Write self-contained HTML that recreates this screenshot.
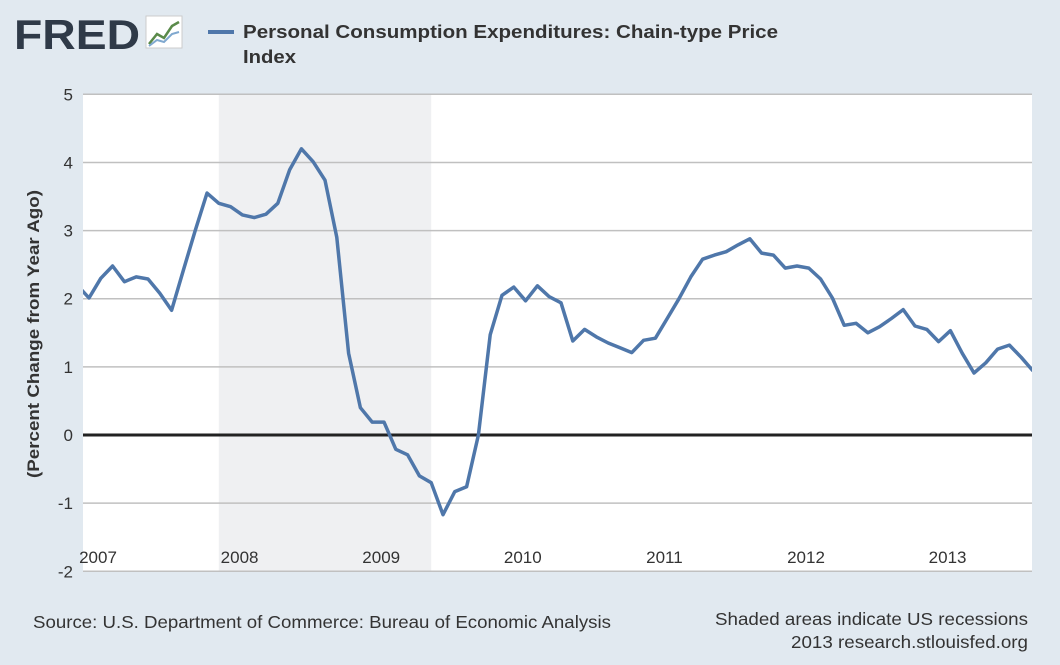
<!DOCTYPE html>
<html><head><meta charset="utf-8"><style>
body{margin:0;background:#e1e9f0;}
svg{display:block;font-family:"Liberation Sans",sans-serif;}
</style></head><body>
<svg width="1060" height="665">
<rect x="0" y="0" width="1060" height="665" fill="#e1e9f0"/>
<g>
<text x="14" y="49" font-size="42" font-weight="bold" fill="#2f3a48" textLength="126" lengthAdjust="spacingAndGlyphs">FRED</text>
<rect x="146" y="16" width="36" height="32" fill="#fff" stroke="#ccc"/>
<polyline points="149,44 157,34 164,38 172,26 179,22" fill="none" stroke="#5a8a4a" stroke-width="2.5"/>
<polyline points="149,46 157,40 164,42 172,34 179,32" fill="none" stroke="#7fa8cf" stroke-width="2"/>
</g>
<g>
<line x1="208" y1="32" x2="234" y2="32" stroke="#4f77aa" stroke-width="4"/>
<text x="243" y="38" font-size="18" font-weight="bold" fill="#333" textLength="535" lengthAdjust="spacingAndGlyphs">Personal Consumption Expenditures: Chain-type Price</text>
<text x="243" y="63" font-size="18" font-weight="bold" fill="#333" textLength="53" lengthAdjust="spacingAndGlyphs">Index</text>
</g>
<rect x="83" y="95" width="949" height="477" fill="#fff"/>
<g id="rec"></g><g id="grid"></g><g id="series"></g><g id="xlab"></g>
<text transform="translate(39,334) rotate(-90)" text-anchor="middle" font-size="17" font-weight="bold" fill="#333" textLength="288" lengthAdjust="spacingAndGlyphs">(Percent Change from Year Ago)</text>
<text x="33" y="628" font-size="17.5" fill="#333" textLength="578" lengthAdjust="spacingAndGlyphs">Source: U.S. Department of Commerce: Bureau of Economic Analysis</text>
<text x="715" y="625" font-size="17.5" fill="#333" textLength="313" lengthAdjust="spacingAndGlyphs">Shaded areas indicate US recessions</text>
<text x="791" y="648" font-size="17.5" fill="#333" textLength="237" lengthAdjust="spacingAndGlyphs">2013 research.stlouisfed.org</text>
</svg>
<script>
const values=[2.2,2.01,2.3,2.48,2.25,2.32,2.29,2.08,1.83,2.42,3.0,3.55,3.40,3.35,3.23,3.19,3.24,3.40,3.89,4.2,4.01,3.74,2.9,1.2,0.4,0.19,0.19,-0.21,-0.29,-0.6,-0.7,-1.17,-0.83,-0.76,0.0,1.47,2.05,2.17,1.97,2.19,2.03,1.94,1.38,1.55,1.44,1.35,1.28,1.21,1.39,1.42,1.71,2.0,2.32,2.58,2.64,2.69,2.79,2.88,2.67,2.64,2.45,2.48,2.45,2.29,2.01,1.61,1.64,1.5,1.59,1.71,1.84,1.6,1.55,1.37,1.53,1.2,0.91,1.06,1.26,1.32,1.14,0.94];
const startMonth=-1; // Dec 2006 relative to Jan 2007
const yTicks=[5,4,3,2,1,0,-1,-2];
const xYears=[2007,2008,2009,2010,2011,2012,2013];
const recessions=[[11,29]]; // months from Jan 2007: Dec 2007 - Jun 2009
const NS="http://www.w3.org/2000/svg";
const X0=83,X1=1032,Y0=95,Y1=572;
function xs(m){return 89+m*11.8;}
function ys(v){return 435-v*68.14;}
function el(t,a,p){const e=document.createElementNS(NS,t);for(const k in a)e.setAttribute(k,a[k]);document.getElementById(p).appendChild(e);return e;}
recessions.forEach(r=>{const a=Math.max(X0,xs(r[0])),b=xs(r[1]);
 const e=el('rect',{x:a,y:Y0,width:b-a,height:Y1-Y0,fill:'#eff0f2'},'rec');
 
 });
yTicks.forEach(v=>{const y=ys(v);
 const l=el('line',{x1:X0,x2:X1,y1:y,y2:y,stroke:v===0?'#222':'#c0c0c0','stroke-width':v===0?3:1.5},'grid');
 
 
 const t=el('text',{x:73,y:y+6,'text-anchor':'end','font-size':17,fill:'#333'},'grid');t.textContent=v;
 
 });
xYears.forEach((yr,i)=>{const x=xs(i*12)+9;
 const t=el('text',{x:x,y:563,'text-anchor':'middle','font-size':17,fill:'#333'},'xlab');t.textContent=yr;
 
 });
el('clipPath',{id:'clp'},'series');
el('rect',{x:X0,y:Y0,width:X1-X0,height:Y1-Y0},'clp');
const pts=values.map((v,i)=>xs(startMonth+i).toFixed(1)+','+ys(v).toFixed(1)).join(' ');
const pl=el('polyline',{points:pts,fill:'none',stroke:'#4f77aa','stroke-width':3.5,'stroke-linejoin':'round','clip-path':'url(#clp)'},'series');


</script>
</body></html>
